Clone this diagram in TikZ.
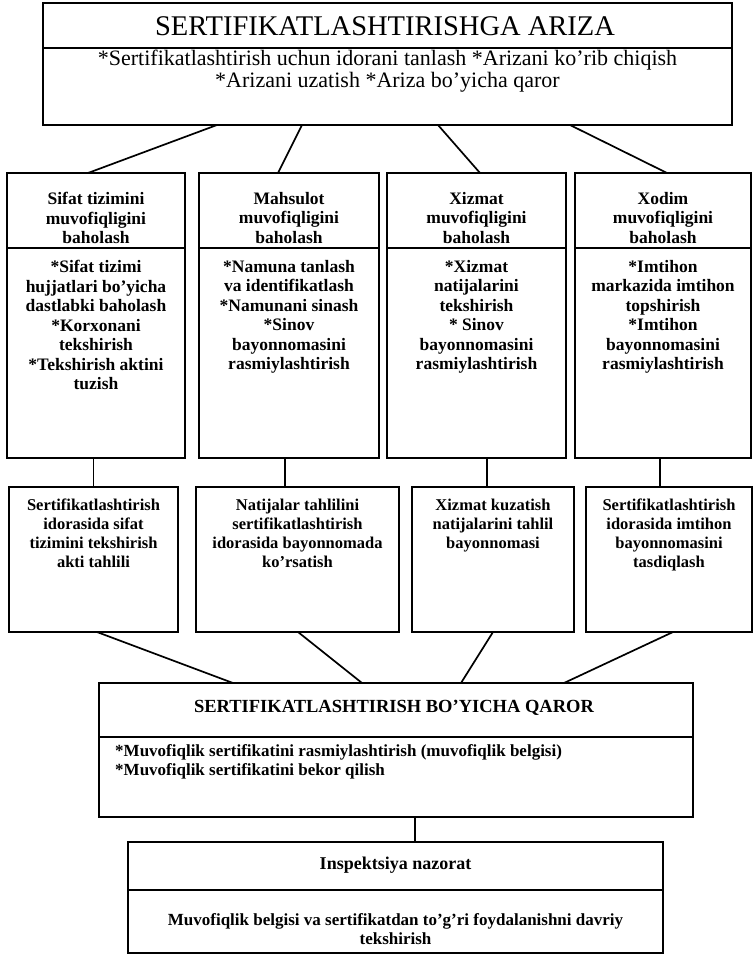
\documentclass[tikz,border=0pt]{standalone}
\usepackage{fontspec}
\setmainfont{Liberation Serif}
\usetikzlibrary{calc}
\begin{document}
\begin{tikzpicture}[x=1pt,y=-1pt]
\tikzset{
  frame/.style={draw, line width=1.7pt, inner sep=0pt, outer sep=0pt},
  conn/.style={line width=1.7pt},
  bt/.style={font=\bfseries\fontsize{17.5}{19.5}\selectfont, align=center, inner sep=0pt},
  bt2/.style={font=\bfseries\fontsize{16.5}{19}\selectfont, align=center, inner sep=0pt},
}
\useasboundingbox (0,0) rectangle (753,957);
% ---------- top box ----------
\node[frame, minimum width=689pt, minimum height=45pt] (th) at (387.5,25.5) {};
\node[frame, minimum width=689pt, minimum height=77pt] (tb) at (387.5,86.5) {};
\node[inner sep=0pt, font=\fontsize{28.5}{30}\selectfont] (ttitle) at (385,26.5) {SERTIFIKATLASHTIRISHGA ARIZA};
\node[inner sep=0pt, align=center, anchor=north, font=\fontsize{22}{22}\selectfont] (ttext) at (387.5,50)
  {*Sertifikatlashtirish uchun idorani tanlash *Arizani ko'rib chiqish\\*Arizani uzatish *Ariza bo'yicha qaror};
% ---------- row 1 ----------
\node[frame, minimum width=178pt, minimum height=75pt] (h1) at (96,210.5) {};
\node[frame, minimum width=178pt, minimum height=210pt] (bd1) at (96,353) {};
\node[frame, minimum width=180pt, minimum height=75pt] (h2) at (289,210.5) {};
\node[frame, minimum width=180pt, minimum height=210pt] (bd2) at (289,353) {};
\node[frame, minimum width=179pt, minimum height=75pt] (h3) at (476.5,210.5) {};
\node[frame, minimum width=179pt, minimum height=210pt] (bd3) at (476.5,353) {};
\node[frame, minimum width=176pt, minimum height=75pt] (h4) at (663,210.5) {};
\node[frame, minimum width=176pt, minimum height=210pt] (bd4) at (663,353) {};
\node[bt, anchor=north] (h1t) at (96,192) {Sifat tizimini\\muvofiqligini\\baholash};
\node[bt, anchor=north] (h2t) at (289,192) {Mahsulot\\muvofiqligini\\baholash};
\node[bt, anchor=north] (h3t) at (476.5,192) {Xizmat\\muvofiqligini\\baholash};
\node[bt, anchor=north] (h4t) at (663,192) {Xodim\\muvofiqligini\\baholash};
\node[bt, anchor=north] (b1t) at (96,260) {*Sifat tizimi\\hujjatlari bo'yicha\\dastlabki baholash\\*Korxonani\\tekshirish\\*Tekshirish aktini\\tuzish};
\node[bt, anchor=north] (b2t) at (289,260) {*Namuna tanlash\\va identifikatlash\\*Namunani sinash\\*Sinov\\bayonnomasini\\rasmiylashtirish};
\node[bt, anchor=north] (b3t) at (476.5,260) {*Xizmat\\natijalarini\\tekshirish\\* Sinov\\bayonnomasini\\rasmiylashtirish};
\node[bt, anchor=north] (b4t) at (663,260) {*Imtihon\\markazida imtihon\\topshirish\\*Imtihon\\bayonnomasini\\rasmiylashtirish};
% ---------- row 2 ----------
\node[frame, minimum width=169pt, minimum height=145pt] (r1) at (93.5,559.5) {};
\node[frame, minimum width=203pt, minimum height=145pt] (r2) at (297.5,559.5) {};
\node[frame, minimum width=162pt, minimum height=145pt] (r3) at (493,559.5) {};
\node[frame, minimum width=166pt, minimum height=145pt] (r4) at (669,559.5) {};
\node[bt2, anchor=north] (r1t) at (93.5,499) {Sertifikatlashtirish\\idorasida sifat\\tizimini tekshirish\\akti tahlili};
\node[bt2, anchor=north] (r2t) at (297.5,499) {Natijalar tahlilini\\sertifikatlashtirish\\idorasida bayonnomada\\ko'rsatish};
\node[bt2, anchor=north] (r3t) at (493,499) {Xizmat kuzatish\\natijalarini tahlil\\bayonnomasi};
\node[bt2, anchor=north] (r4t) at (669,499) {Sertifikatlashtirish\\idorasida imtihon\\bayonnomasini\\tasdiqlash};
% ---------- decision ----------
\node[frame, minimum width=594pt, minimum height=54pt] (dh) at (396,710) {};
\node[frame, minimum width=594pt, minimum height=80pt] (db) at (396,777) {};
\node[inner sep=0pt, font=\bfseries\fontsize{18.5}{20}\selectfont] (dtitle) at (394,708) {SERTIFIKATLASHTIRISH BO'YICHA QAROR};
\node[inner sep=0pt, anchor=north west, align=left, font=\bfseries\fontsize{17}{19}\selectfont] (dtext) at (115,744)
  {*Muvofiqlik sertifikatini rasmiylashtirish (muvofiqlik belgisi)\\*Muvofiqlik sertifikatini bekor qilish};
% ---------- inspection ----------
\node[frame, minimum width=535pt, minimum height=48pt] (ih) at (395.5,866) {};
\node[frame, minimum width=535pt, minimum height=63pt] (ib) at (395.5,921.5) {};
\node[inner sep=0pt, font=\bfseries\fontsize{18}{20}\selectfont] (ititle) at (395.5,865) {Inspektsiya nazorat};
\node[inner sep=0pt, align=center, font=\bfseries\fontsize{17}{19}\selectfont] (itext) at (395.5,929)
  {Muvofiqlik belgisi va sertifikatdan to'g'ri foydalanishni davriy\\tekshirish};
% ---------- connectors ----------
\draw[conn] ([xshift=174pt]tb.south west) -- ([xshift=81pt]h1.north west);
\draw[conn] ([xshift=259pt]tb.south west) -- ([xshift=79pt]h2.north west);
\draw[conn] ([xshift=395pt]tb.south west) -- ([xshift=93pt]h3.north west);
\draw[conn] ([xshift=527pt]tb.south west) -- ([xshift=92pt]h4.north west);
\coordinate (v1) at (r1.north);
\coordinate (v2) at ($(bd2.south)+(-4,0)$);
\coordinate (v3) at ($(bd3.south)+(10.5,0)$);
\coordinate (v4) at ($(bd4.south)+(-3,0)$);
\draw[conn] (v1) -- (v1 |- bd1.south);
\draw[conn] (v2) -- (v2 |- r2.north);
\draw[conn] (v3) -- (v3 |- r3.north);
\draw[conn] (v4) -- (v4 |- r4.north);
\draw[conn] ([xshift=88pt]r1.south west) -- ([xshift=134pt]dh.north west);
\draw[conn] ([xshift=102pt]r2.south west) -- ([xshift=263pt]dh.north west);
\draw[conn] ([xshift=81pt]r3.south west) -- ([xshift=362pt]dh.north west);
\draw[conn] ([xshift=87pt]r4.south west) -- ([xshift=465pt]dh.north west);
\coordinate (v5) at ($(db.south)+(19,0)$);
\draw[conn] (v5) -- (v5 |- ih.north);
\end{tikzpicture}
\end{document}
